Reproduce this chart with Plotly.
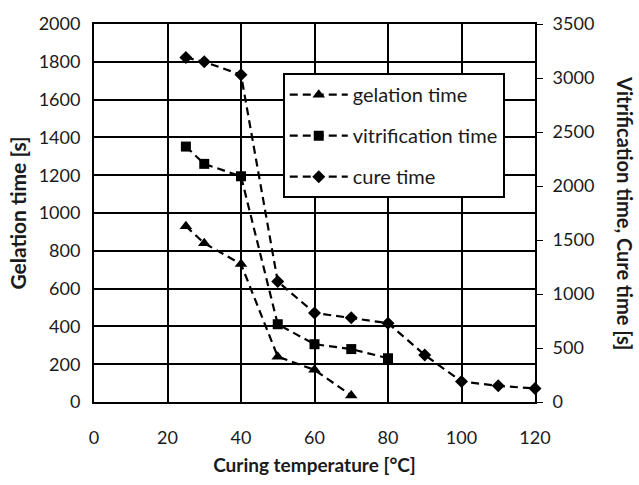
import plotly.graph_objects as go

# Curing temperature [°C]
temp_gel = [25, 30, 40, 50, 60, 70]
gelation_time = [930, 840, 730, 240, 170, 35]

temp_vit = [25, 30, 40, 50, 60, 70, 80]
vitrification_time = [2365, 2205, 2090, 720, 535, 490, 405]

temp_cure = [25, 30, 40, 50, 60, 70, 80, 90, 100, 110, 120]
cure_time = [3190, 3150, 3030, 1115, 825, 780, 730, 435, 190, 150, 125]

x_ticks = [0, 20, 40, 60, 80, 100, 120]

FONT = "Lato"
TXT = "#1a1a1a"
line_style = dict(color="black", width=2.2, dash="8px,5px")

fig = go.Figure()
fig.add_trace(go.Scatter(
    x=temp_gel, y=gelation_time, name="gelation time", mode="lines+markers",
    line=line_style, marker=dict(symbol="triangle-up", size=11, color="black"),
    legendgroup="g1", cliponaxis=False,
))
fig.add_trace(go.Scatter(
    x=temp_vit, y=vitrification_time, name="vitrification time", mode="lines+markers",
    line=line_style, marker=dict(symbol="square", size=10, color="black"),
    yaxis="y2", legendgroup="g2", cliponaxis=False,
))
fig.add_trace(go.Scatter(
    x=temp_cure, y=cure_time, name="cure time", mode="lines+markers",
    line=line_style, marker=dict(symbol="diamond", size=10, color="black"),
    yaxis="y2", legendgroup="g3", cliponaxis=False,
))

fig.update_layout(
    width=639, height=485,
    margin=dict(l=94, r=104, t=21, b=78),
    paper_bgcolor="white", plot_bgcolor="white",
    font=dict(family=FONT, size=18, color=TXT),
    showlegend=True,
    legend=dict(
        x=0.428, y=0.87, xanchor="left", yanchor="top",
        bgcolor="white", bordercolor="black", borderwidth=2,
        font=dict(family=FONT, size=20, color=TXT),
        traceorder="grouped", tracegroupgap=12, itemwidth=58,
    ),
    xaxis=dict(
        range=[0, 120], tickvals=x_ticks, showgrid=True, gridcolor="black", gridwidth=2,
        showline=True, linecolor="black", linewidth=2, mirror=True,
        ticks="", ticklabelstandoff=18, zeroline=False,
        title=dict(text="<b>Curing temperature [°C]</b>", standoff=12,
                   font=dict(family=FONT, size=19)),
    ),
    yaxis=dict(
        range=[0, 2000], dtick=200, showgrid=True, gridcolor="black", gridwidth=2,
        showline=True, linecolor="black", linewidth=2, mirror=True,
        ticks="", ticklabelstandoff=8, zeroline=False,
        title=dict(text="<b>Gelation time [s]</b>", standoff=6,
                   font=dict(family=FONT, size=21)),
    ),
    yaxis2=dict(
        range=[0, 3500], dtick=500, overlaying="y", side="right", showgrid=False,
        ticks="outside", ticklen=7, tickcolor="black", tickwidth=1,
        ticklabelstandoff=6, zeroline=False,
    ),
    annotations=[dict(
        text="<b>Vitrification time, Cure time [s]</b>",
        xref="paper", yref="paper", x=1.204, y=0.5,
        xanchor="center", yanchor="middle", textangle=90, showarrow=False,
        font=dict(family=FONT, size=20, color=TXT),
    )],
)

fig.write_html("out.html")
